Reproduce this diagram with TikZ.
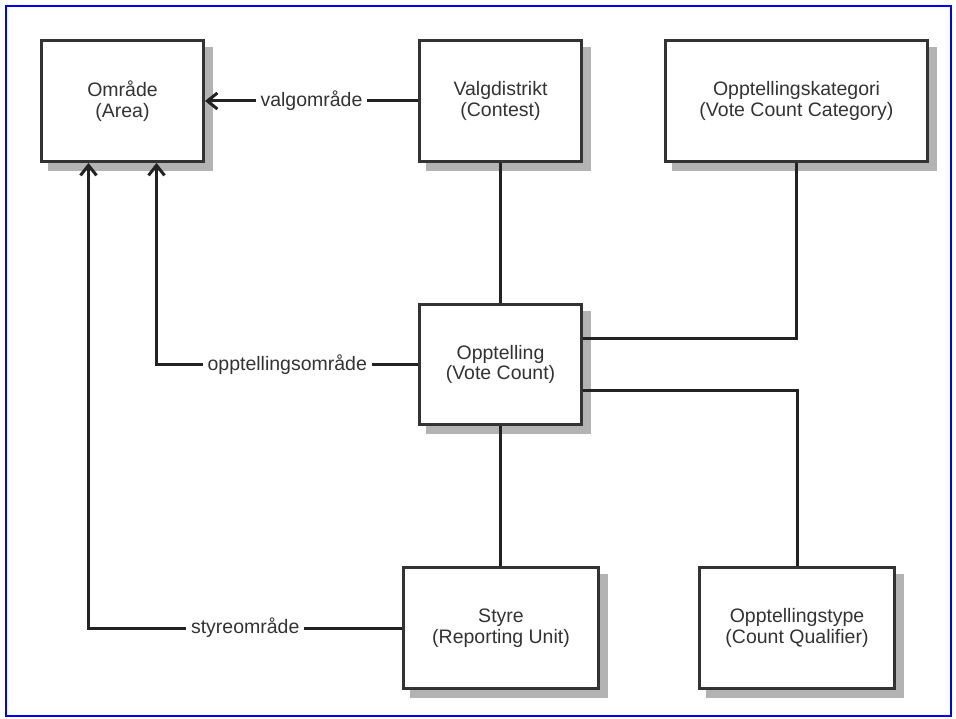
\documentclass[tikz,border=0pt]{standalone}
\usepackage{fontspec}
\setmainfont{Liberation Sans}
\usetikzlibrary{arrows.meta,shadows}
\definecolor{boxline}{HTML}{333333}
\definecolor{txtcol}{HTML}{333333}
\definecolor{shadowgray}{HTML}{B3B3B3}
\definecolor{frameblue}{HTML}{0000FF}
\definecolor{connline}{HTML}{222222}
\begin{document}
\begin{tikzpicture}[x=1pt,y=-1pt,
  entity/.style={rectangle, draw=boxline, line width=3pt, fill=white, text=txtcol,
    minimum height=121pt, inner sep=0pt, align=center,
    font=\fontsize{19.5}{20.5}\selectfont,
    drop shadow={shadow xshift=8pt, shadow yshift=-8pt, fill=shadowgray, draw=shadowgray, opacity=1}},
  connector/.style={draw=connline, line width=3pt},
  lbl/.style={fill=white, text=txtcol, inner xsep=5pt, inner ysep=2pt, font=\fontsize{19.5}{20.5}\selectfont},
  opentip/.style={-{Straight Barb[length=10pt,width=16pt]}}
]
\useasboundingbox (0,0) rectangle (956,719);
\draw[frameblue, line width=2pt] (6,6) rectangle (951,716);

\node[entity, minimum width=162pt] (omr) at (122.5,101) {Område\\(Area)};
\node[entity, minimum width=162pt] (valg) at (500.5,101) {Valgdistrikt\\(Contest)};
\node[entity, minimum width=262pt] (kat) at (796.5,101) {Opptellingskategori\\(Vote Count Category)};
\node[entity, minimum width=162pt, minimum height=120pt] (opp) at (500.5,364.5) {Opptelling\\(Vote Count)};
\node[entity, minimum width=195pt] (styre) at (501,628) {Styre\\(Reporting Unit)};
\node[entity, minimum width=195pt] (type) at (797,628) {Opptellingstype\\(Count Qualifier)};

\draw[connector, opentip] (valg.west) -- node[lbl]{valgområde} (omr.east);
\draw[connector] (valg.south) -- (opp.north);
\draw[connector] ([yshift=25.5pt]opp.east) -| (kat.south);
\draw[connector] ([yshift=-25.5pt]opp.east) -| (type.north);
\draw[connector] (opp.south) -- (opp.south |- styre.north);
\draw[connector, opentip] (opp.west) -| node[lbl, pos=0.25]{opptellingsområde} ([xshift=34pt]omr.south);
\draw[connector, opentip] (styre.west) -| node[lbl, pos=0.25]{styreområde} ([xshift=-34pt]omr.south);
\end{tikzpicture}
\end{document}
